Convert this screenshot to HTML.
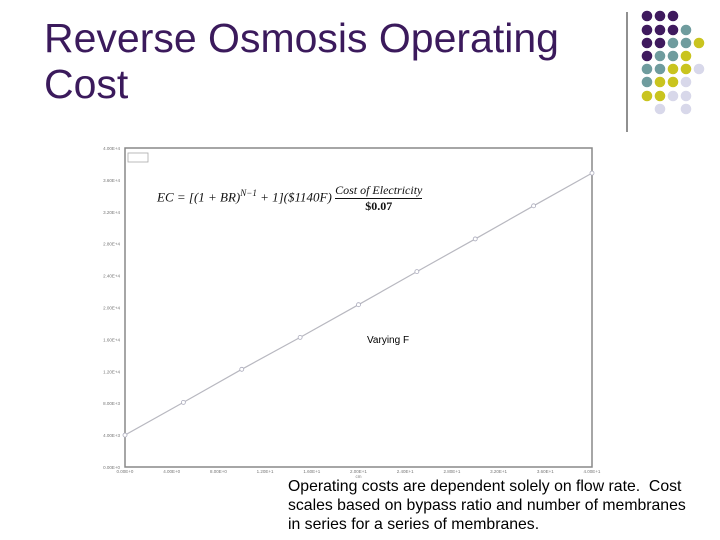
<!DOCTYPE html>
<html><head><meta charset="utf-8"><style>
body{margin:0;width:720px;height:540px;background:#fff;position:relative;overflow:hidden;font-family:"Liberation Sans",sans-serif}
.title{position:absolute;left:44px;top:15px;font-size:41px;line-height:46px;color:#3b1a5c;white-space:nowrap}
.note{position:absolute;left:288px;top:477px;font-size:15.8px;line-height:19px;color:#000;width:410px}
.vf{position:absolute;left:367px;top:335px;font-size:10px;color:#000}
.formula{position:absolute;left:157px;top:183px;font-family:"Liberation Serif",serif;font-style:italic;font-size:13px;color:#111;white-space:nowrap}
</style></head><body>
<div class="title">Reverse Osmosis Operating<br>Cost</div>
<svg id="deco" width="720" height="540" style="position:absolute;left:0;top:0"></svg>
<svg id="chart" width="720" height="540" style="position:absolute;left:0;top:0"></svg>
<div class="formula">EC = [(1 + BR)<sup style="font-size:9px">N−1</sup> + 1]($1140F) <span style="display:inline-block;vertical-align:middle;text-align:center;font-size:12px"><span style="display:block;border-bottom:1px solid #111">Cost of Electricity</span><span style="display:block;font-style:normal;font-weight:bold">$0.07</span></span></div>
<div class="vf">Varying F</div>
<div class="note">Operating costs are dependent solely on flow rate.&nbsp; Cost scales based on bypass ratio and number of membranes in series for a series of membranes.</div>
<script>
const xValues=[0,5,10,15,20,25,30,35,40];
const yValues=[4000,8100,12250,16250,20350,24500,28600,32750,36850];
const xTicks=["0.00E+0","4.00E+0","8.00E+0","1.20E+1","1.60E+1","2.00E+1","2.40E+1","2.80E+1","3.20E+1","3.60E+1","4.00E+1"];
const yTicks=["0.00E+0","4.00E+3","8.00E+3","1.20E+4","1.60E+4","2.00E+4","2.40E+4","2.80E+4","3.20E+4","3.60E+4","4.00E+4"];
const NS="http://www.w3.org/2000/svg";
const L=125,R=592,T=148,B=467,XMAX=40,YMAX=40000;
const sx=v=>L+(R-L)*v/XMAX, sy=v=>B-(B-T)*v/YMAX;
function mk(p,tag,a){const e=document.createElementNS(NS,tag);for(const k in a)e.setAttribute(k,a[k]);p.appendChild(e);return e;}
const c=document.getElementById('chart');
const frame=mk(c,'rect',{x:L,y:T,width:R-L,height:B-T,fill:'none',stroke:'#888','stroke-width':1.5});


const lg=mk(c,'rect',{x:128,y:153,width:20,height:9,fill:'#fff',stroke:'#aaa','stroke-width':0.8});


yTicks.forEach((t,i)=>{const y=sy(i*4000);const e=mk(c,'text',{x:L-5,y:y+2,'font-size':4.5,'text-anchor':'end',fill:'#777'});e.textContent=t;

});
xTicks.forEach((t,i)=>{const x=sx(i*4);const e=mk(c,'text',{x:x,y:B+6,'font-size':4.5,'text-anchor':'middle',fill:'#777'});e.textContent=t;

});
const xt=mk(c,'text',{x:(L+R)/2,y:B+11,'font-size':4.5,'text-anchor':'middle',fill:'#777'});xt.textContent='cm';


const pl=mk(c,'polyline',{points:xValues.map((x,i)=>sx(x)+','+sy(yValues[i])).join(' '),fill:'none',stroke:'#b8b8c0','stroke-width':1.2});


xValues.forEach((x,i)=>{const p=mk(c,'circle',{cx:sx(x),cy:sy(yValues[i]),r:2,fill:'#fff',stroke:'#aab','stroke-width':0.8});

});
const d=document.getElementById('deco');
mk(d,'line',{x1:627,y1:12,x2:627,y2:132,stroke:'#222','stroke-width':1});
const col={P:'#3f1a5e',T:'#6f9c9e',Y:'#c9c41f',L:'#d8d8ea'};
const rows=["PPP","PPPT","PPTTY","PTTY","TTYYL","TYYL","YYLL"," L L"];
const rys=[16,30,43,56,69,82,96,109],cxs=[647,660,673,686,699];
rows.forEach((r,i)=>[...r].forEach((ch,j)=>{if(ch!==' ')mk(d,'circle',{cx:cxs[j],cy:rys[i],r:5.3,fill:col[ch]});}));
</script>
</body></html>
